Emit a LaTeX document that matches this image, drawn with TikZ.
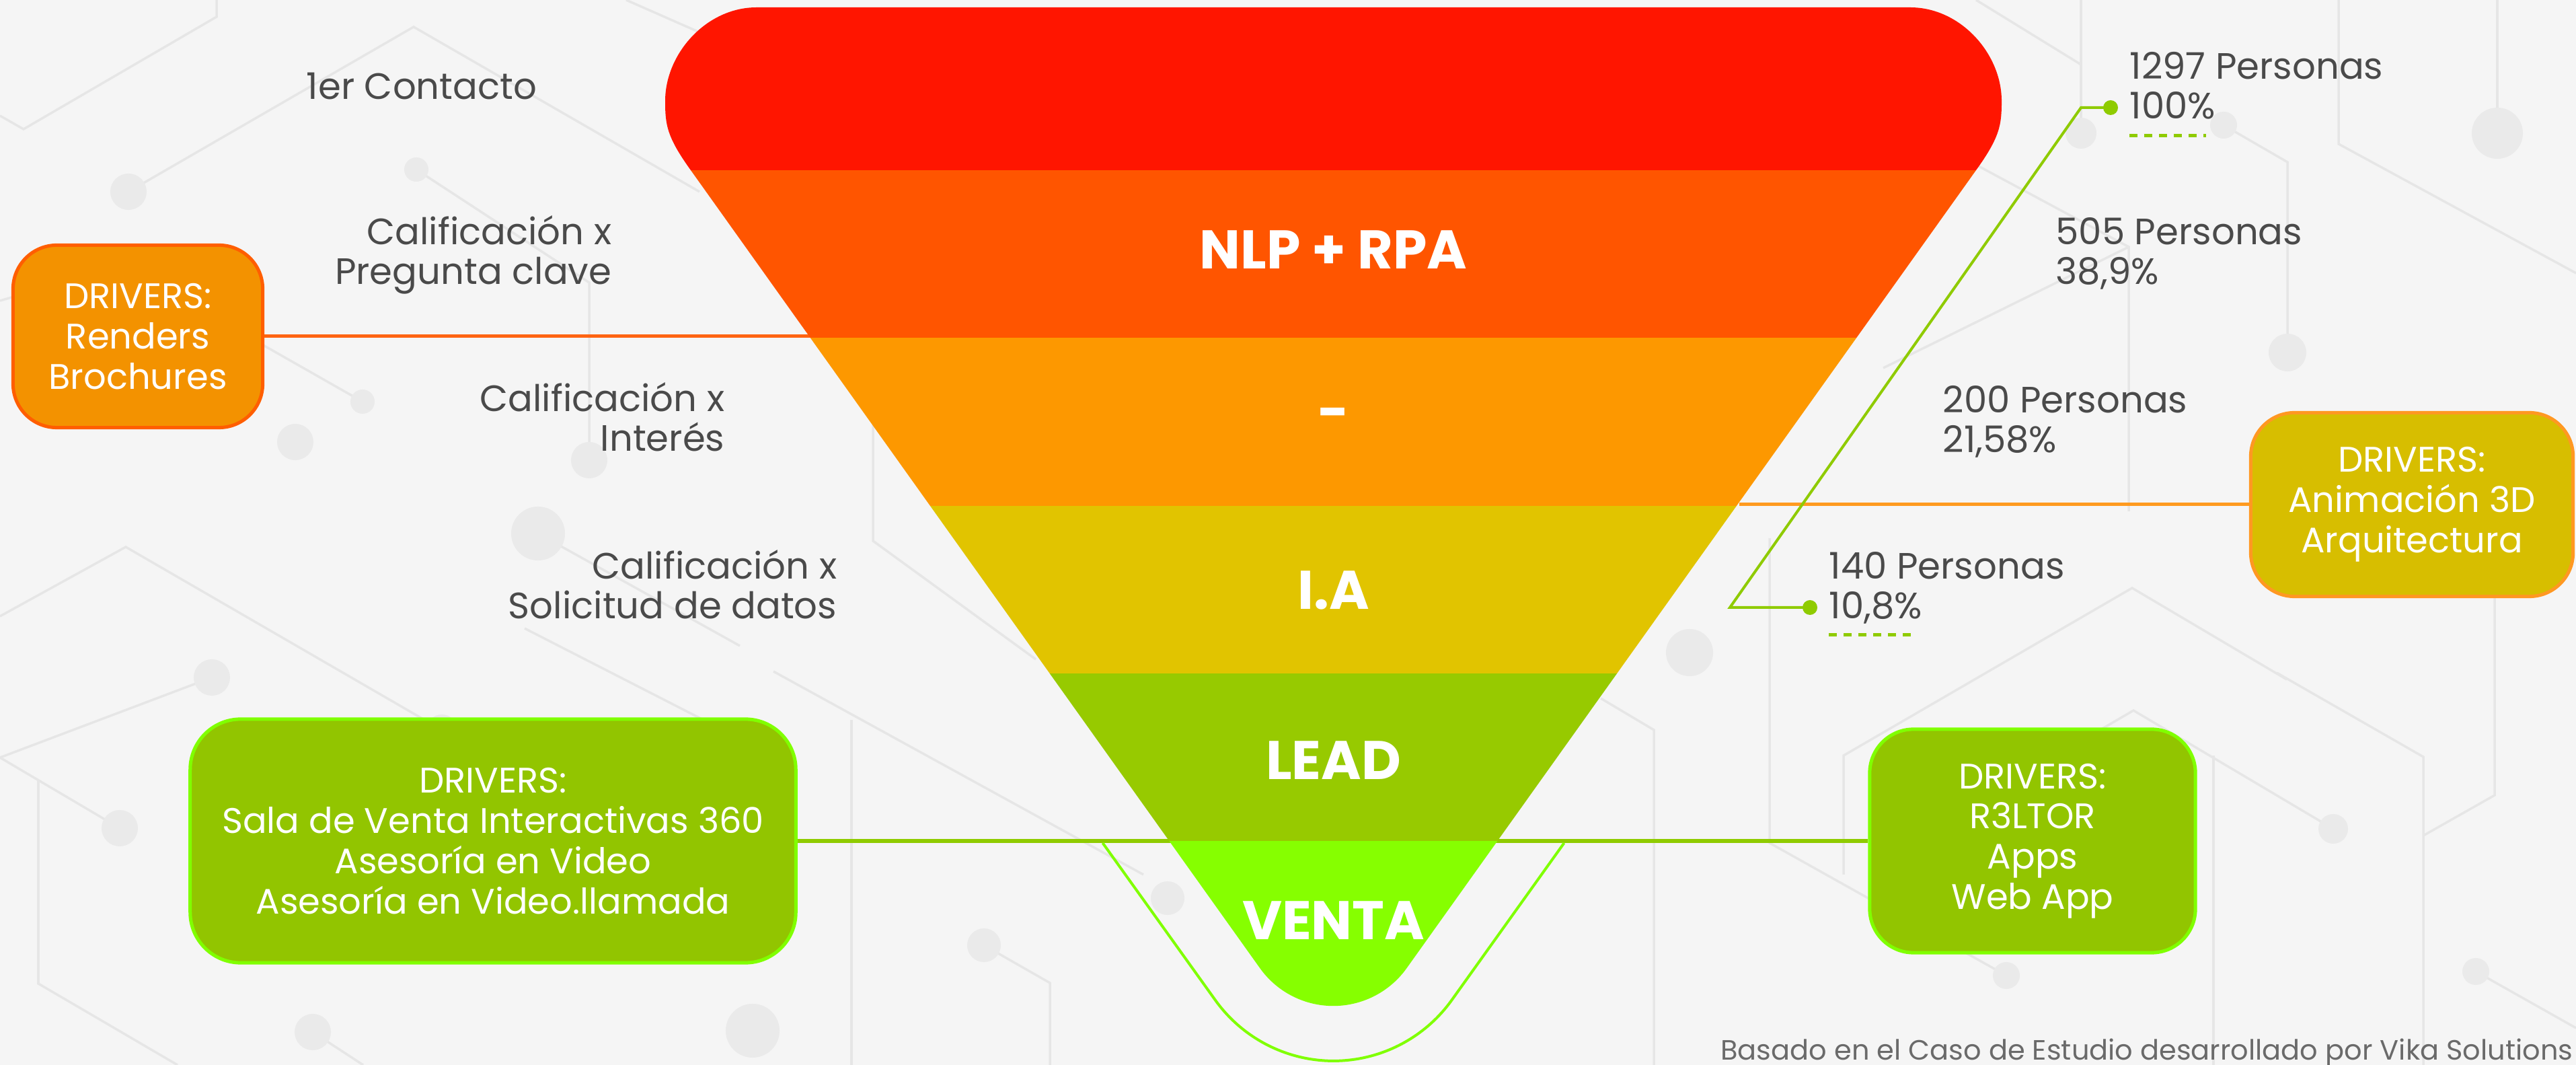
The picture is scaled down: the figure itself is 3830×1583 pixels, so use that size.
\documentclass[tikz,border=0pt]{standalone}
\usepackage{fontspec}
\setmainfont{Poppins}
\usepackage{tikz}
\usetikzlibrary{positioning}

\definecolor{bggray}{HTML}{F5F5F5}
\definecolor{patline}{HTML}{E6E6E6}
\definecolor{patdot}{HTML}{EAEAEA}
\definecolor{bandred}{HTML}{FF1500}
\definecolor{bandnlp}{HTML}{FF5500}
\definecolor{banddash}{HTML}{FD9800}
\definecolor{bandia}{HTML}{E1C400}
\definecolor{bandlead}{HTML}{97CA00}
\definecolor{bandventa}{HTML}{86FF00}
\definecolor{txtgray}{HTML}{4A4A4A}
\definecolor{footgray}{HTML}{6A6A6A}
\definecolor{boxorange}{HTML}{F39200}
\definecolor{edgeorange}{HTML}{FF5E00}
\definecolor{boxyellow}{HTML}{D7BE00}
\definecolor{edgeyellow}{HTML}{FF9822}
\definecolor{boxgreen}{HTML}{92C500}
\definecolor{edgegreen}{HTML}{80FF00}
\definecolor{linkgreen}{HTML}{8FCB00}
\definecolor{linkred}{HTML}{FF6412}
\definecolor{linkorange}{HTML}{FF9A1F}

\tikzstyle{drivers_box} = [rounded corners=0.65cm, line width=0.05cm, align=center, text=white, font=\fontsize{15}{17}\selectfont, inner sep=0pt]
\tikzstyle{stage} = [text=white, font=\fontsize{23}{26}\selectfont\bfseries]
\tikzstyle{side_txt} = [text=txtgray, font=\fontsize{15.5}{17}\selectfont, inner sep=0pt]
\tikzstyle{link} = [line width=0.05cm]
\tikzstyle{dash_green} = [linkgreen, line width=0.05cm, dash pattern=on 0.12cm off 0.1cm]
\tikzstyle{pat_line} = [draw=patline, line width=0.035cm]
\tikzstyle{pat_dot} = [fill=patdot]
\tikzstyle{mark_dot} = [circle, fill=linkgreen, inner sep=0pt, minimum size=0.22cm]

\begin{document}
\begin{tikzpicture}[x=0.01cm, y=-0.01cm]
        \useasboundingbox (0,0) rectangle (3830,1583);
        \fill[bggray] (0,0) rectangle (3830,1583);

        % faint circuit pattern in the background
        \draw[pat_line] (322,0) -- (322,25) -- (35,192) -- (0,172);
        \draw[pat_line] (191,285) -- (615,40) -- (1040,285);
        \draw[pat_line] (931,0) -- (1040,48);
        \draw[pat_line] (619,252) -- (876,420) -- (876,684);
        \draw[pat_line] (0,447) -- (182,394) -- (539,597);
        \draw[pat_line] (800,793) -- (1100,960);
        \draw[pat_line] (1298,600) -- (1298,804) -- (1540,980);
        \draw[pat_line] (0,916) -- (187,813) -- (657,1085);
        \draw[pat_line] (315,1007) -- (0,1126);
        \draw[pat_line] (0,1126) -- (178,1231);
        \draw[pat_line] (57,1160) -- (57,1462) -- (264,1583);
        \draw[pat_line] (780,934) -- (1120,1108);
        \draw[pat_line] (1150,998) -- (1700,1300);
        \draw[pat_line] (1266,1070) -- (1266,1583);
        \draw[pat_line] (1463,1405) -- (1561,1461) -- (1561,1583);
        \draw[pat_line] (465,1534) -- (540,1583);
        \draw[pat_line] (2631,800) -- (2631,1253) -- (2983,1450);
        \draw[pat_line] (2380,1038) -- (2459,1085) -- (2459,1583);
        \draw[pat_line] (2741,1300) -- (2741,1123) -- (3170,874) -- (3400,1010);
        \draw[pat_line] (2871,1232) -- (3172,1056) -- (3469,1232);
        \draw[pat_line] (3291,1123) -- (3291,1583);
        \draw[pat_line] (3385,1000) -- (3603,1125) -- (3603,1583);
        \draw[pat_line] (3709,838) -- (3709,1182) -- (3603,1242);
        \draw[pat_line] (3681,1444) -- (3830,1528);
        \draw[pat_line] (2938,0) -- (3094,96);
        \draw[pat_line] (3094,0) -- (3094,198);
        \draw[pat_line] (3306,186) -- (3401,241) -- (3401,524);
        \draw[pat_line] (3477,0) -- (3477,214) -- (3830,406);
        \draw[pat_line] (3713,0) -- (3713,198);
        \draw[pat_line] (2938,245) -- (3165,367) -- (3165,760);
        \draw[pat_line] (2800,547) -- (3165,367);
        \fill[pat_dot] (191,285) circle (0.27cm);
        \fill[pat_dot] (619,252) circle (0.18cm);
        \fill[pat_dot] (539,597) circle (0.18cm);
        \fill[pat_dot] (439,657) circle (0.27cm);
        \fill[pat_dot] (876,684) circle (0.27cm);
        \fill[pat_dot] (800,793) circle (0.4cm);
        \fill[pat_dot] (315,1007) circle (0.27cm);
        \fill[pat_dot] (178,1231) circle (0.27cm);
        \fill[pat_dot] (657,1085) circle (0.23cm);
        \fill[pat_dot] (465,1534) circle (0.27cm);
        \fill[pat_dot] (1119,1532) circle (0.4cm);
        \fill[pat_dot] (1463,1405) circle (0.25cm);
        \fill[pat_dot] (1736,1335) circle (0.25cm);
        \fill[pat_dot] (2512,970) circle (0.35cm);
        \fill[pat_dot] (2983,1450) circle (0.2cm);
        \fill[pat_dot] (3469,1232) circle (0.22cm);
        \fill[pat_dot] (3681,1444) circle (0.2cm);
        \fill[pat_dot] (3094,198) circle (0.23cm);
        \fill[pat_dot] (3306,186) circle (0.2cm);
        \fill[pat_dot] (3401,524) circle (0.28cm);
        \fill[pat_dot] (3713,198) circle (0.38cm);

        % drivers boxes
        \node (drivers_renders) [drivers_box, fill=boxorange, draw=edgeorange, minimum width=3.71cm, minimum height=2.71cm] at (205,500) {DRIVERS:\\Renders\\Brochures};
        \node (drivers_3d) [drivers_box, fill=boxyellow, draw=edgeyellow, minimum width=4.79cm, minimum height=2.73cm] at (3586,750) {DRIVERS:\\Animación 3D\\Arquitectura};
        \node (drivers_sala) [drivers_box, fill=boxgreen, draw=edgegreen, minimum width=9cm, minimum height=3.62cm, rounded corners=0.75cm] at (733,1250) {DRIVERS:\\Sala de Venta Interactivas 360\\Asesoría en Video\\Asesoría en Video.llamada};
        \node (drivers_app) [drivers_box, fill=boxgreen, draw=edgegreen, minimum width=4.84cm, minimum height=3.32cm] at (3022,1250) {DRIVERS:\\R3LTOR\\Apps\\Web App};

        \coordinate (edge_nlp) at (1205,500);
        \coordinate (edge_ia) at (2586,750);
        \draw[link, linkred] (drivers_renders.east) -- (edge_nlp);
        \draw[link, linkorange] (drivers_3d.west) -- (edge_ia);
        \draw[link, linkgreen, line width=0.06cm] (drivers_sala.east) -- (drivers_app.west);

        % funnel
        \begin{scope}
            \clip (1027,253) .. controls (991,203) and (989,185) .. (989,150)
                  .. controls (989,80) and (1050,11) .. (1125,11)
                  -- (2840,11)
                  .. controls (2915,11) and (2976,80) .. (2976,150)
                  .. controls (2976,185) and (2974,203) .. (2938,253)
                  -- (2091.5,1439) arc[start angle=-35.5, end angle=-144.5, radius=1.34cm] -- cycle;
            \fill[bandred] (900,0) rectangle (3100,253);
            \fill[bandnlp] (900,253) rectangle (3100,502);
            \fill[banddash] (900,502) rectangle (3100,752);
            \fill[bandia] (900,752) rectangle (3100,1001);
            \fill[bandlead] (900,1001) rectangle (3100,1250);
            \fill[bandventa] (900,1250) rectangle (3100,1600);
        \end{scope}
        \draw[edgegreen, line width=0.04cm] (1639.5,1253) -- (1806.7,1486.3) arc[start angle=-144.5, end angle=-35.5, radius=2.16cm] -- (2325.5,1253);

        \node (stage_nlp) [stage] at (1982.5,371) {NLP + RPA};
        \node (stage_dash) [stage] at (1982.5,623) {-};
        \node (stage_ia) [stage] at (1982.5,877) {I.A};
        \node (stage_lead) [stage] at (1982.5,1130) {LEAD};
        \node (stage_venta) [stage] at (1982.5,1368) {VENTA};

        % qualification labels (base = last line)
        \node (lbl_contacto) [side_txt, anchor=base east] at (799,148) {1er Contacto};
        \node (lbl_pregunta) [side_txt, align=right, anchor=base east] at (910,423) {Calificación x\\Pregunta clave};
        \node (lbl_interes) [side_txt, align=right, anchor=base east] at (1078,671) {Calificación x\\Interés};
        \node (lbl_datos) [side_txt, align=right, anchor=base east] at (1245,920) {Calificación x\\Solicitud de datos};

        % people counts
        \node (pct_1297) [side_txt, align=left, anchor=base west] at (3166,177) {1297 Personas\\100\%};
        \node (pct_505) [side_txt, align=left, anchor=base west] at (3056,423) {505 Personas\\38,9\%};
        \node (pct_200) [side_txt, align=left, anchor=base west] at (2888,673) {200 Personas\\21,58\%};
        \node (pct_140) [side_txt, align=left, anchor=base west] at (2719,920) {140 Personas\\10,8\%};

        \node (dot_top) [mark_dot] at (3138,160) {};
        \node (dot_bot) [mark_dot] at (2691,903) {};
        \coordinate (bend_top) at (3094,160);
        \coordinate (bend_bot) at (2572,903);
        \draw[link, linkgreen, line width=0.04cm] (dot_top.center) -- (bend_top) -- (bend_bot) -- (dot_bot.center);
        \draw[dash_green] (3166,202) -- (3280,202);
        \draw[dash_green] (2719,944) -- (2843,944);

        \node (credit) [anchor=base east, inner sep=0pt, text=footgray, font=\fontsize{11.8}{14}\selectfont] at (3826,1575) {Basado en el Caso de Estudio desarrollado por Vika Solutions};
\end{tikzpicture}
\end{document}
